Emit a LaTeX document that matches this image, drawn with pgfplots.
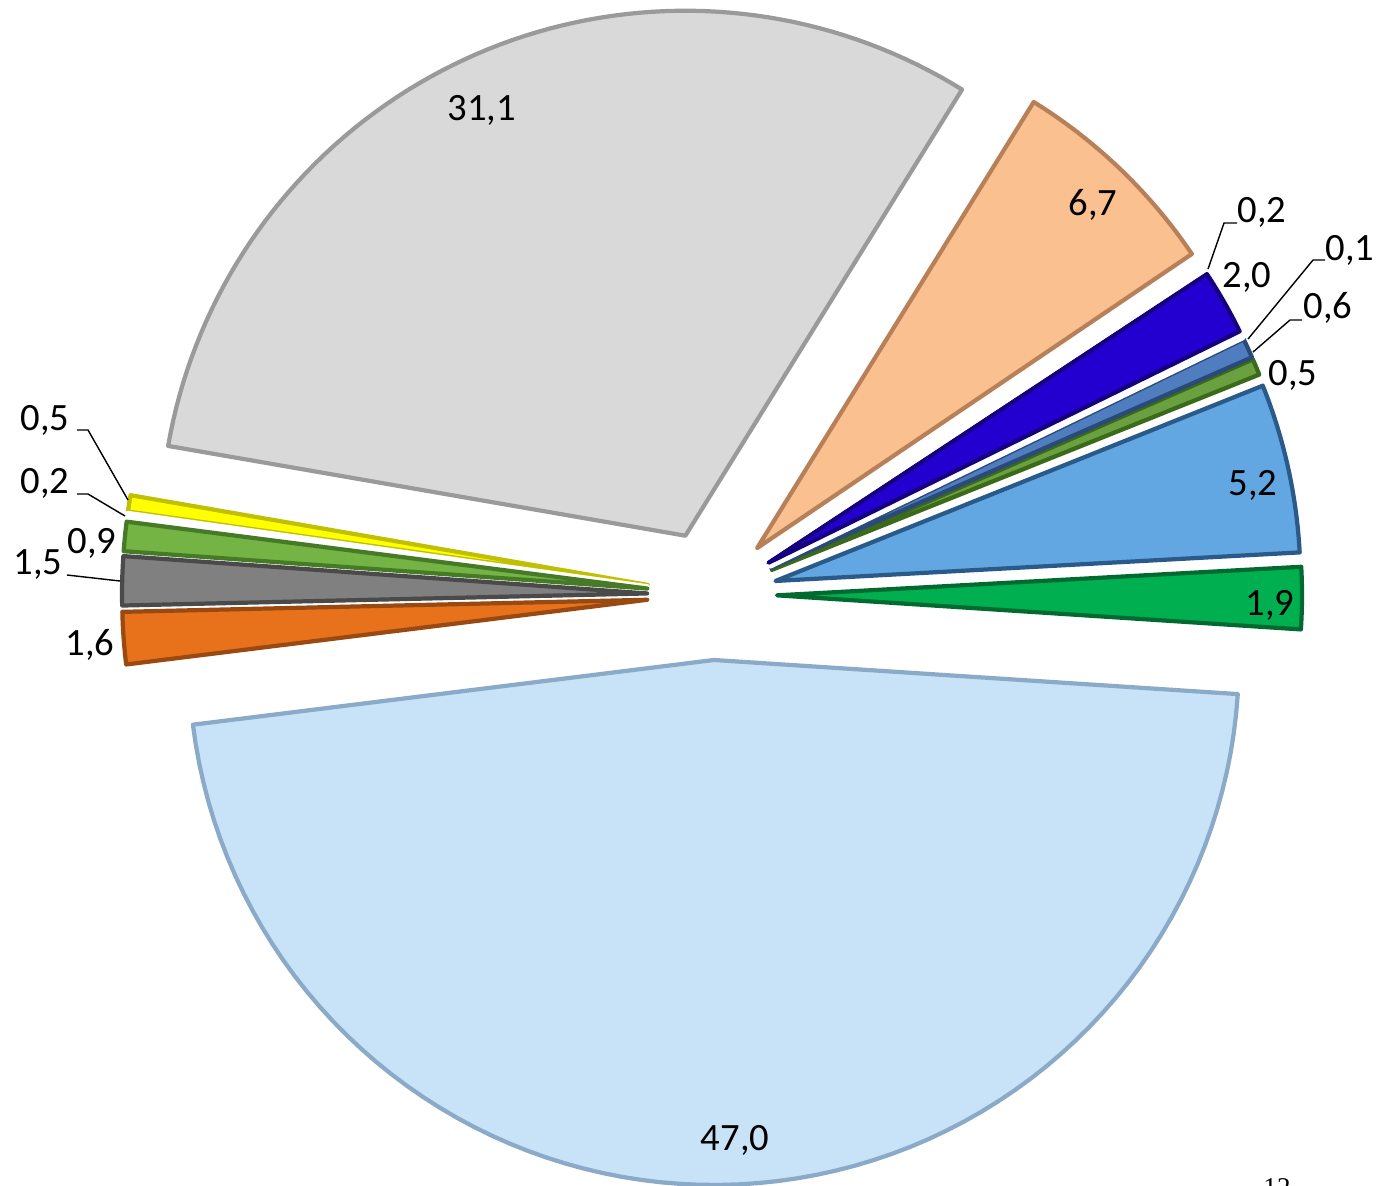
\documentclass[border=0pt]{standalone}
\usepackage{fontspec}
\setmainfont{Carlito}
\newfontfamily\timesfont{Liberation Serif}
\usepackage{pgfplots}
\pgfplotsset{compat=1.18}
\definecolor{cGray}{HTML}{D9D9D9}\definecolor{eGray}{HTML}{9A9A9A}
\definecolor{cPeach}{HTML}{FAC090}\definecolor{ePeach}{HTML}{B88058}
\definecolor{cBlue}{HTML}{2400D0}\definecolor{eBlue}{HTML}{160080}
\definecolor{cSteel}{HTML}{4F7DC0}\definecolor{eSteel}{HTML}{2A4A7A}
\definecolor{cOlive}{HTML}{6AA040}\definecolor{eOlive}{HTML}{3A6A1A}
\definecolor{cSky}{HTML}{62A6E2}\definecolor{eSky}{HTML}{2A5A8A}
\definecolor{cGreen}{HTML}{00B050}\definecolor{eGreen}{HTML}{006A30}
\definecolor{cPale}{HTML}{C8E2F8}\definecolor{ePale}{HTML}{8AAAC8}
\definecolor{cOrange}{HTML}{E8711C}\definecolor{eOrange}{HTML}{9A4A10}
\definecolor{cDGray}{HTML}{808080}\definecolor{eDGray}{HTML}{4A4A4A}
\definecolor{cLGreen}{HTML}{74B444}\definecolor{eLGreen}{HTML}{467A26}
\definecolor{cYellow}{HTML}{FFFF00}\definecolor{eYellow}{HTML}{C0C000}
\tikzset{lbl/.style={font=\fontsize{11}{13}\selectfont, inner sep=0pt}}
% slice: fill, edge, start angle, end angle (angles = cumulative share x 3.6 deg)
\newcommand\slice[4]{%
  \addplot[fill=#1, draw=#2, line width=1.2pt, line join=round, domain=#3:#4, samples=80]
    ({712+65*cos((#3+#4)/2)+525*cos(x)},{590+65*sin((#3+#4)/2)+525*sin(x)})
    -- ({712+65*cos((#3+#4)/2)},{590+65*sin((#3+#4)/2)}) -- cycle;}
\begin{document}
\begin{tikzpicture}
\begin{axis}[width=13.78cm, height=11.85cm, scale only axis,
  xmin=0, xmax=1378, ymin=0, ymax=1185, hide axis, clip=false]
\coordinate (ll) at (0,0);
\coordinate (ur) at (1378,1185);
% values (%): 31.1, 0.5, 0.2, 0.9, 1.5, 1.6, 47.0, 1.9, 5.2, 0.5, 0.6, 0.1, 2.0, 0.2, 6.7
\slice{cGray}{eGray}{58.20}{170.16}
\slice{cYellow}{eYellow}{170.16}{171.96}
\slice{white}{white}{171.96}{172.68}
\slice{cLGreen}{eLGreen}{172.68}{175.92}
\slice{cDGray}{eDGray}{175.92}{181.32}
\slice{cOrange}{eOrange}{181.32}{187.08}
\slice{cPale}{ePale}{187.08}{356.28}
\slice{cGreen}{eGreen}{356.28}{363.12}
\slice{cSky}{eSky}{363.12}{381.84}
\slice{cOlive}{eOlive}{381.84}{383.64}
\slice{cSteel}{eSteel}{383.64}{385.80}
\slice{white}{white}{385.80}{386.16}
\slice{cBlue}{eBlue}{386.16}{393.36}
\slice{white}{white}{393.36}{394.08}
\slice{cPeach}{ePeach}{394.08}{418.20}
% labels
\node[lbl] at (482,1075) {31,1};
\node[lbl] at (1093,980) {6,7};
\node[lbl] at (1262,973) {0,2};
\node[lbl] at (1247,908) {2,0};
\node[lbl] at (1350,935) {0,1};
\node[lbl] at (1328,877) {0,6};
\node[lbl] at (1293,810) {0,5};
\node[lbl] at (1253,700) {5,2};
\node[lbl] at (1270,580) {1,9};
\node[lbl] at (735,45) {47,0};
\node[lbl] at (45,765) {0,5};
\node[lbl] at (45,702) {0,2};
\node[lbl] at (92,642) {0,9};
\node[lbl] at (38,620) {1,5};
\node[lbl] at (90,540) {1,6};
% leader lines
\draw[black, line width=0.4pt] (1208,916) -- (1224,962) -- (1237,962);
\draw[black, line width=0.4pt] (1248,846) -- (1313,925) -- (1325,925);
\draw[black, line width=0.4pt] (1253,833) -- (1290,865) -- (1302,865);
\draw[black, line width=0.4pt] (77,755) -- (88,755) -- (128,685);
\draw[black, line width=0.4pt] (77,691) -- (88,691) -- (125,669);
\draw[black, line width=0.4pt] (67,610) -- (120,604);
\node[overlay, anchor=base, inner sep=0pt, font=\timesfont\fontsize{7.7}{9}\selectfont] at (1277,-11) {12};
\end{axis}
\pgfresetboundingbox
\path[use as bounding box] (ll) rectangle (ur);
\end{tikzpicture}
\end{document}
